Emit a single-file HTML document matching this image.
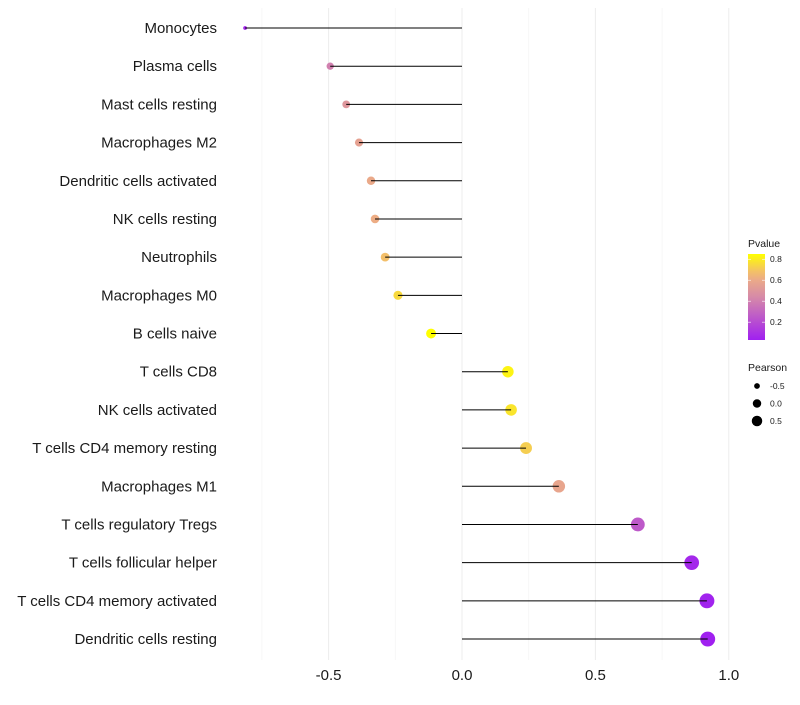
<!DOCTYPE html>
<html><head><meta charset="utf-8"><style>
body{margin:0;background:#fff;font-family:"Liberation Sans",sans-serif;}
svg text{font-family:"Liberation Sans",sans-serif;}
</style></head><body>
<svg id="chart" width="800" height="700" xmlns="http://www.w3.org/2000/svg"></svg>
<script>
const categories=["Monocytes","Plasma cells","Mast cells resting","Macrophages M2","Dendritic cells activated","NK cells resting","Neutrophils","Macrophages M0","B cells naive","T cells CD8","NK cells activated","T cells CD4 memory resting","Macrophages M1","T cells regulatory  Tregs ","T cells follicular helper","T cells CD4 memory activated","Dendritic cells resting"];
const pearson=[-0.813,-0.494,-0.434,-0.386,-0.341,-0.326,-0.288,-0.240,-0.116,0.172,0.184,0.240,0.363,0.659,0.861,0.918,0.921];
const pvalues=[0.05,0.40,0.50,0.56,0.60,0.62,0.68,0.75,0.85,0.82,0.78,0.72,0.58,0.25,0.06,0.04,0.03];
const xTicks=[-0.5,0.0,0.5,1.0];
const xTickLabels=["-0.5","0.0","0.5","1.0"];
const pTicks=[0.2,0.4,0.6,0.8];
const sizeLegendVals=[-0.5,0.0,0.5];

const svg=document.getElementById('chart');
const NS="http://www.w3.org/2000/svg";
function mk(tag,attrs,parent){const e=document.createElementNS(NS,tag);for(const k in attrs)e.setAttribute(k,attrs[k]);(parent||svg).appendChild(e);return e;}
const xScale=v=>462+v*266.8;
const yScale=i=>28+i*38.19;
const pMin=0.03,pMax=0.85;
const stops=[[0,[160,32,240]],[0.5,[214,138,168]],[0.75,[240,178,128]],[1,[255,255,0]]];
function pColor(p){let t=Math.max(0,Math.min(1,(p-pMin)/(pMax-pMin)));for(let i=1;i<stops.length;i++){if(t<=stops[i][0]){const a=stops[i-1],b=stops[i];const f=(t-a[0])/(b[0]-a[0]);const c=a[1].map((v,j)=>Math.round(v+(b[1][j]-v)*f));return `rgb(${c})`;}}return 'rgb(255,255,0)';}
const rScale=v=>Math.sqrt(Math.max(0.5,28+30*v));

// grid (vertical only)
const grid=mk('g',{});


[-0.75,-0.25,0.25,0.75].forEach(v=>mk('line',{x1:xScale(v),x2:xScale(v),y1:8,y2:660,stroke:'#f4f4f4','stroke-width':0.8},grid));
xTicks.forEach(v=>mk('line',{x1:xScale(v),x2:xScale(v),y1:8,y2:660,stroke:'#ececec','stroke-width':1},grid));

// marks
categories.forEach((c,i)=>{
  const y=yScale(i);
  const pt=mk('circle',{cx:xScale(pearson[i]),cy:y,r:rScale(pearson[i]),fill:pColor(pvalues[i])});
  
  
  const seg=mk('line',{x1:xScale(0),x2:xScale(pearson[i]),y1:y,y2:y,stroke:'#000','stroke-width':1});
  
  
  const lb=mk('text',{x:217,y:y+5,'text-anchor':'end','font-size':15,fill:'#1a1a1a'});
  lb.textContent=c;
  
  
});
xTicks.forEach((v,i)=>{
  const t=mk('text',{x:xScale(v),y:680,'text-anchor':'middle','font-size':15,fill:'#1a1a1a'});
  t.textContent=xTickLabels[i];
  
  
});

// pvalue legend
const lg=mk('g',{});


const defs=mk('defs',{});
const gr=mk('linearGradient',{id:'pg',x1:0,y1:1,x2:0,y2:0},defs);
for(let k=0;k<=10;k++){const p=pMin+(pMax-pMin)*k/10;mk('stop',{offset:k/10,'stop-color':pColor(p)},gr);}
const lt=mk('text',{x:748,y:247,'font-size':10.5,fill:'#1a1a1a'},lg);lt.textContent='Pvalue';
const pTop=254,pBot=340;
const pY=p=>pBot-(p-pMin)/(pMax-pMin)*(pBot-pTop);
mk('rect',{x:748,y:pTop,width:17,height:pBot-pTop,fill:'url(#pg)'},lg);
pTicks.forEach(p=>{
  mk('line',{x1:748,x2:751,y1:pY(p),y2:pY(p),stroke:'#fff','stroke-width':0.6},lg);
  mk('line',{x1:762,x2:765,y1:pY(p),y2:pY(p),stroke:'#fff','stroke-width':0.6},lg);
  const t=mk('text',{x:770,y:pY(p)+3,'font-size':8.5,fill:'#1a1a1a'},lg);t.textContent=p.toFixed(1);
});
// size legend
const sl=mk('g',{});


const st=mk('text',{x:748,y:371,'font-size':10.5,fill:'#1a1a1a'},sl);st.textContent='Pearson';
sizeLegendVals.forEach((v,i)=>{
  const y=386+i*17.5;
  mk('circle',{cx:757,cy:y,r:rScale(v)*0.8,fill:'#000'},sl);
  const t=mk('text',{x:770,y:y+3,'font-size':8.5,fill:'#1a1a1a'},sl);t.textContent=v.toFixed(1);
});
</script>
</body></html>
